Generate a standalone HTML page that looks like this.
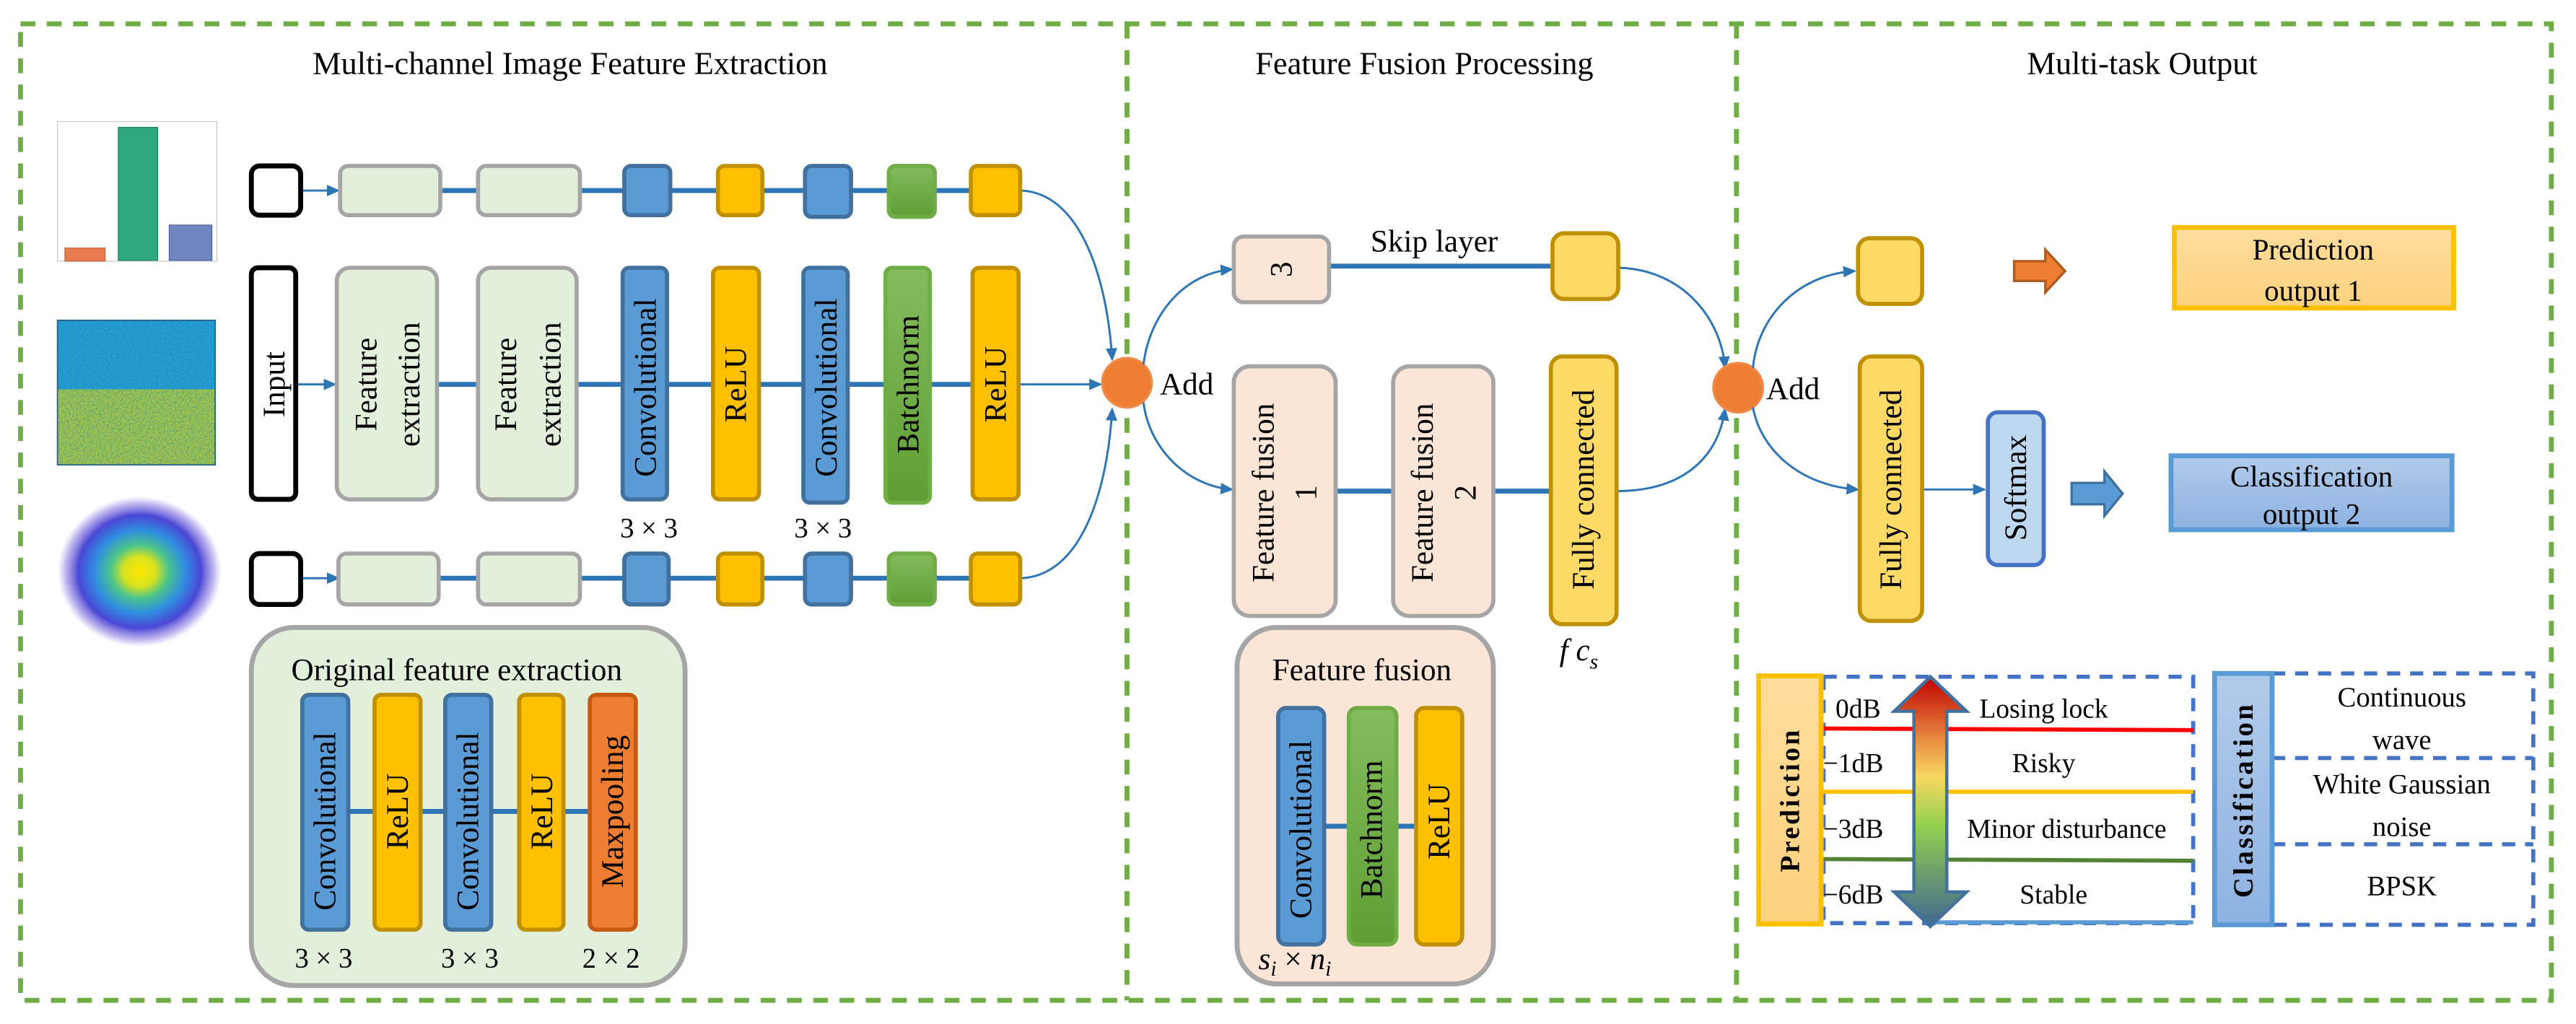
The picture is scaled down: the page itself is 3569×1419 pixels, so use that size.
<!DOCTYPE html>
<html><head><meta charset="utf-8">
<style>
html,body{margin:0;padding:0;background:#fff;}
svg{display:block;}
svg, text{font-family:"Liberation Serif","DejaVu Serif","Times New Roman",serif;}
text{fill:#000;}
</style></head>
<body>
<svg width="3569" height="1419" viewBox="0 0 1568 623.4" xmlns="http://www.w3.org/2000/svg" font-family="Liberation Serif, DejaVu Serif, Times New Roman, serif">
<defs>
<marker id="ar" markerWidth="8" markerHeight="8" refX="7" refY="4" orient="auto" markerUnits="userSpaceOnUse">
<path d="M0,0.5 L8,4 L0,7.5 Z" fill="#2e75b6"/></marker>
<linearGradient id="gg" x1="0" y1="0" x2="0" y2="1"><stop offset="0" stop-color="#84bc5e"/><stop offset="1" stop-color="#5e9e33"/></linearGradient>
<linearGradient id="dbl" x1="0" y1="0" x2="0" y2="1">
<stop offset="0" stop-color="#c00000"/><stop offset="0.25" stop-color="#e88a40"/><stop offset="0.4" stop-color="#f8d860"/><stop offset="0.6" stop-color="#92d050"/><stop offset="0.8" stop-color="#6a9a70"/><stop offset="1" stop-color="#3f6a90"/></linearGradient>
<linearGradient id="predg" x1="0" y1="0" x2="0" y2="1"><stop offset="0" stop-color="#fedd9c"/><stop offset="1" stop-color="#fdd17e"/></linearGradient>
<linearGradient id="clsg" x1="0" y1="0" x2="0" y2="1"><stop offset="0" stop-color="#b2cbea"/><stop offset="1" stop-color="#8db2e2"/></linearGradient>
<radialGradient id="blob">
<stop offset="0" stop-color="#ffe800"/><stop offset="0.2" stop-color="#d5e21f"/><stop offset="0.35" stop-color="#4cc58a"/><stop offset="0.55" stop-color="#2f8ee0"/><stop offset="0.75" stop-color="#4b47d6"/><stop offset="0.9" stop-color="#7a68dc" stop-opacity="0.5"/><stop offset="1" stop-color="#a090e8" stop-opacity="0"/></radialGradient>
<filter id="noise" x="0" y="0" width="1" height="1">
<feTurbulence type="fractalNoise" baseFrequency="0.9" numOctaves="2" result="t"/>
<feColorMatrix type="matrix" values="0 0 0 0 0  0 0 0 0 0.2  0 0 0 0 0.4  0 0 0 1.2 -0.4"/>
<feComposite in2="SourceGraphic" operator="in"/></filter>
</defs>

<g stroke="#70ad47" stroke-width="3" stroke-dasharray="9 7" fill="none">
<rect x="12.5" y="14.5" width="1540.5" height="594.5"/>
<line x1="686" y1="14.5" x2="686" y2="609"/>
<line x1="1057" y1="14.5" x2="1057" y2="609"/>
</g>

<text x="347" y="45" font-size="19.5" text-anchor="middle">Multi-channel Image Feature Extraction</text>
<text x="867" y="45" font-size="19.5" text-anchor="middle">Feature Fusion Processing</text>
<text x="1304" y="45" font-size="19.5" text-anchor="middle">Multi-task Output</text>

<rect x="35" y="74" width="97" height="85" fill="#fff" stroke="#ccc" stroke-width="0.6"/>
<rect x="39.5" y="151" width="24.5" height="8" fill="#e87a50" stroke="#c0603a" stroke-width="0.5"/>
<rect x="72" y="77.5" width="24" height="81" fill="#2ea87e" stroke="#1a7a5a" stroke-width="0.5"/>
<rect x="103" y="137" width="26" height="21.5" fill="#6f86c0" stroke="#4a60a0" stroke-width="0.5"/>

<rect x="35" y="195" width="96" height="42" fill="#2a9fd4"/>
<rect x="35" y="237" width="96" height="46" fill="#a9c64a"/>
<rect x="35" y="195" width="96" height="88" fill="#fff" filter="url(#noise)" opacity="0.8"/>
<rect x="35" y="195" width="96" height="88" fill="none" stroke="#2a6090" stroke-width="0.8"/>

<ellipse cx="85" cy="348" rx="50" ry="46" fill="url(#blob)"/>

<g stroke="#2e75b6" stroke-width="3">
<line x1="266" y1="116" x2="591" y2="116"/>
<line x1="266" y1="234" x2="592" y2="234"/>
<line x1="266" y1="352" x2="591" y2="352"/>
</g>
<g stroke="#2e75b6" stroke-width="1.3" fill="none" marker-end="url(#ar)">
<line x1="183" y1="116" x2="206" y2="116"/>
<line x1="180" y1="234" x2="204" y2="234"/>
<line x1="183" y1="352" x2="206" y2="352"/>
<line x1="620" y1="234" x2="670" y2="234"/>
<path d="M622,116 C658,118 674,170 677,219"/>
<path d="M622,352 C658,350 674,300 677,249"/>
</g>

<rect x="153" y="101" width="30" height="30" rx="5" fill="#fff" stroke="#000" stroke-width="3"/>
<g fill="#e2efda" stroke="#a5a5a5" stroke-width="2.5">
<rect x="207" y="101" width="61" height="30" rx="5"/>
<rect x="291" y="101" width="62" height="30" rx="5"/>
<rect x="205" y="163" width="61" height="141" rx="8"/>
<rect x="291" y="163" width="60" height="141" rx="8"/>
<rect x="206" y="337" width="61" height="31" rx="5"/>
<rect x="291" y="337" width="62" height="31" rx="5"/>
</g>
<g fill="#5b9bd5" stroke="#41719c" stroke-width="2.5">
<rect x="380" y="101" width="28" height="30" rx="4"/>
<rect x="490" y="101" width="28" height="31" rx="4"/>
<rect x="379" y="163" width="27" height="141" rx="4"/>
<rect x="489" y="163" width="27" height="143" rx="4"/>
<rect x="380" y="337" width="27" height="31" rx="4"/>
<rect x="490" y="337" width="28" height="31" rx="4"/>
</g>
<g fill="#ffc000" stroke="#bf9000" stroke-width="2.5">
<rect x="437" y="101" width="27" height="30" rx="4"/>
<rect x="591" y="101" width="30" height="30" rx="4"/>
<rect x="434" y="163" width="28" height="141" rx="4"/>
<rect x="592" y="163" width="28" height="141" rx="4"/>
<rect x="437" y="337" width="27" height="31" rx="4"/>
<rect x="591" y="337" width="30" height="31" rx="4"/>
</g>
<g fill="url(#gg)" stroke="#70ad47" stroke-width="2.5">
<rect x="541" y="101" width="28" height="31" rx="4"/>
<rect x="539" y="163" width="27" height="143" rx="4"/>
<rect x="541" y="337" width="28" height="31" rx="4"/>
</g>
<rect x="153" y="163" width="27" height="141" rx="4" fill="#fff" stroke="#000" stroke-width="3"/>
<rect x="153" y="337" width="30" height="31" rx="5" fill="#fff" stroke="#000" stroke-width="3"/>

<g font-size="19" text-anchor="middle" dominant-baseline="central">
<text transform="translate(167,234) rotate(-90)">Input</text>
<text transform="translate(223,234) rotate(-90)">Feature</text>
<text transform="translate(249,234) rotate(-90)">extraction</text>
<text transform="translate(308,234) rotate(-90)">Feature</text>
<text transform="translate(335,234) rotate(-90)">extraction</text>
<text transform="translate(393,236) rotate(-90)">Convolutional</text>
<text transform="translate(448,234) rotate(-90)">ReLU</text>
<text transform="translate(503,236) rotate(-90)">Convolutional</text>
<text transform="translate(553,234) rotate(-90)">Batchnorm</text>
<text transform="translate(606,234) rotate(-90)">ReLU</text>
</g>
<g font-size="17" text-anchor="middle">
<text x="395" y="327">3 × 3</text>
<text x="501" y="327">3 × 3</text>
</g>

<rect x="153" y="382" width="264" height="218" rx="26" fill="#e2efda" stroke="#a5a5a5" stroke-width="3"/>
<text x="278" y="414" font-size="19" text-anchor="middle">Original feature extraction</text>
<line x1="212" y1="494" x2="359" y2="494" stroke="#2e75b6" stroke-width="3"/>
<rect x="184" y="423" width="28" height="143" rx="4" fill="#5b9bd5" stroke="#41719c" stroke-width="2.5"/>
<rect x="228" y="423" width="28" height="143" rx="4" fill="#ffc000" stroke="#bf9000" stroke-width="2.5"/>
<rect x="271" y="423" width="28" height="143" rx="4" fill="#5b9bd5" stroke="#41719c" stroke-width="2.5"/>
<rect x="316" y="423" width="27" height="143" rx="4" fill="#ffc000" stroke="#bf9000" stroke-width="2.5"/>
<rect x="359" y="423" width="28" height="143" rx="4" fill="#ed7d31" stroke="#c55a11" stroke-width="2.5"/>
<g font-size="19" text-anchor="middle" dominant-baseline="central">
<text transform="translate(198,500) rotate(-90)">Convolutional</text>
<text transform="translate(242,494) rotate(-90)">ReLU</text>
<text transform="translate(285,500) rotate(-90)">Convolutional</text>
<text transform="translate(330,494) rotate(-90)">ReLU</text>
<text transform="translate(373,494) rotate(-90)">Maxpooling</text>
</g>
<g font-size="17" text-anchor="middle">
<text x="197" y="589">3 × 3</text>
<text x="286" y="589">3 × 3</text>
<text x="372" y="589">2 × 2</text>
</g>

<circle cx="686" cy="233" r="15" fill="#ed7d31" stroke="#f08a48" stroke-width="1.5"/>
<text x="706" y="240" font-size="19">Add</text>

<g stroke="#2e75b6" stroke-width="3">
<line x1="809" y1="162" x2="945" y2="162"/>
<line x1="813" y1="299" x2="848" y2="299"/>
<line x1="909" y1="299" x2="944" y2="299"/>
</g>
<g stroke="#2e75b6" stroke-width="1.3" fill="none" marker-end="url(#ar)">
<path d="M696,222 C700,190 722,166 750,164"/>
<path d="M696,245 C700,275 724,296 750,298"/>
<path d="M985,163 C1025,164 1048,195 1050,224"/>
<path d="M984,299 C1025,299 1046,278 1050,249"/>
</g>
<rect x="751" y="144" width="58" height="40" rx="6" fill="#fbe5d6" stroke="#a5a5a5" stroke-width="2.5"/>
<text transform="translate(780,164) rotate(-90)" font-size="19" text-anchor="middle" dominant-baseline="central">3</text>
<text x="873" y="153" font-size="19" text-anchor="middle">Skip layer</text>
<rect x="945" y="142" width="40" height="40" rx="7" fill="#ffd966" stroke="#bf9000" stroke-width="2.5"/>
<rect x="751" y="223" width="62" height="152" rx="10" fill="#fbe5d6" stroke="#a5a5a5" stroke-width="2.5"/>
<rect x="848" y="223" width="61" height="152" rx="10" fill="#fbe5d6" stroke="#a5a5a5" stroke-width="2.5"/>
<rect x="944" y="217" width="40" height="163" rx="7" fill="#ffd966" stroke="#bf9000" stroke-width="2.5"/>
<g font-size="19" text-anchor="middle" dominant-baseline="central">
<text transform="translate(769,300) rotate(-90)">Feature fusion</text>
<text transform="translate(795,300) rotate(-90)">1</text>
<text transform="translate(866,300) rotate(-90)">Feature fusion</text>
<text transform="translate(892,300) rotate(-90)">2</text>
<text transform="translate(964,298) rotate(-90)">Fully connected</text>
</g>
<text x="961" y="402" font-size="19" font-style="italic" text-anchor="middle">f c<tspan font-size="13" dy="5">s</tspan></text>

<rect x="753" y="382" width="156" height="217" rx="24" fill="#fbe5d6" stroke="#a5a5a5" stroke-width="3"/>
<text x="829" y="414" font-size="19" text-anchor="middle">Feature fusion</text>
<line x1="806" y1="503" x2="862" y2="503" stroke="#2e75b6" stroke-width="3"/>
<rect x="778" y="431" width="28" height="144" rx="5" fill="#5b9bd5" stroke="#41719c" stroke-width="2.5"/>
<rect x="821" y="431" width="29" height="144" rx="5" fill="url(#gg)" stroke="#70ad47" stroke-width="2.5"/>
<rect x="862" y="431" width="28" height="144" rx="5" fill="#ffc000" stroke="#bf9000" stroke-width="2.5"/>
<g font-size="19" text-anchor="middle" dominant-baseline="central">
<text transform="translate(792,505) rotate(-90)">Convolutional</text>
<text transform="translate(835,505) rotate(-90)">Batchnorm</text>
<text transform="translate(876,500) rotate(-90)">ReLU</text>
</g>
<text x="766" y="590" font-size="19" font-style="italic">s<tspan font-size="13" dy="4">i</tspan><tspan dy="-4" font-style="normal"> × </tspan>n<tspan font-size="13" dy="4">i</tspan></text>

<circle cx="1058" cy="236" r="15" fill="#ed7d31" stroke="#f08a48" stroke-width="1.5"/>
<text x="1075" y="243" font-size="19">Add</text>

<g stroke="#2e75b6" stroke-width="1.3" fill="none" marker-end="url(#ar)">
<path d="M1067,224 C1070,192 1095,167 1129,165"/>
<path d="M1067,248 C1072,275 1097,296 1131,298"/>
<line x1="1170" y1="298" x2="1208" y2="298"/>
</g>
<rect x="1131" y="145" width="39" height="40" rx="7" fill="#ffd966" stroke="#bf9000" stroke-width="2.5"/>
<rect x="1132" y="217" width="38" height="161" rx="7" fill="#ffd966" stroke="#bf9000" stroke-width="2.5"/>
<text transform="translate(1151,298) rotate(-90)" font-size="19" text-anchor="middle" dominant-baseline="central">Fully connected</text>
<rect x="1210" y="251" width="34" height="93" rx="6" fill="#bdd7ee" stroke="#4472c4" stroke-width="2.5"/>
<text transform="translate(1227,297) rotate(-90)" font-size="19" text-anchor="middle" dominant-baseline="central">Softmax</text>

<polygon points="1226,159 1245,159 1245,152 1257,165 1245,178 1245,171 1226,171" fill="#ed7d31" stroke="#ae5a21" stroke-width="1.5"/>
<polygon points="1261,294 1281,294 1281,287 1292,300.5 1281,314 1281,307 1261,307" fill="#5b9bd5" stroke="#41719c" stroke-width="1.5"/>

<rect x="1323.5" y="138.5" width="170" height="49" fill="url(#predg)" stroke="#ffc000" stroke-width="3"/>
<text x="1408" y="158" font-size="18" text-anchor="middle">Prediction</text>
<text x="1408" y="183" font-size="18" text-anchor="middle">output 1</text>
<rect x="1321.5" y="277.5" width="171" height="45" fill="url(#clsg)" stroke="#5b9bd5" stroke-width="3"/>
<text x="1407" y="296" font-size="18" text-anchor="middle">Classification</text>
<text x="1407" y="319" font-size="18" text-anchor="middle">output 2</text>

<rect x="1110" y="412" width="225" height="150" fill="none" stroke="#4472c4" stroke-width="2.5" stroke-dasharray="8 6"/>
<line x1="1108" y1="443.5" x2="1335" y2="444.5" stroke="#ff0000" stroke-width="2.5"/>
<line x1="1108" y1="482" x2="1335" y2="482" stroke="#ffc000" stroke-width="2.5"/>
<line x1="1108" y1="523" x2="1335" y2="524" stroke="#548235" stroke-width="2.5"/>
<line x1="1174" y1="561.5" x2="1335" y2="561.5" stroke="#5b9bd5" stroke-width="2.5"/>
<rect x="1070.5" y="411.5" width="38" height="151" fill="url(#predg)" stroke="#ffc000" stroke-width="3"/>
<text transform="translate(1090,487) rotate(-90)" font-size="16.5" font-weight="bold" letter-spacing="1.5" text-anchor="middle" dominant-baseline="central">Prediction</text>
<polygon points="1175,412 1197,433 1185,433 1185,543 1197,543 1175,564 1153,543 1165,543 1165,433 1153,433" fill="url(#dbl)" stroke="#41719c" stroke-width="2"/>
<g font-size="16.5">
<text x="1131" y="437" text-anchor="middle">0dB</text>
<text x="1128" y="470" text-anchor="middle">−1dB</text>
<text x="1128" y="510" text-anchor="middle">−3dB</text>
<text x="1128" y="550" text-anchor="middle">−6dB</text>
<text x="1244" y="437" text-anchor="middle">Losing lock</text>
<text x="1244" y="470" text-anchor="middle">Risky</text>
<text x="1258" y="510" text-anchor="middle">Minor disturbance</text>
<text x="1250" y="550" text-anchor="middle">Stable</text>
</g>

<rect x="1383" y="410" width="159" height="153" fill="none" stroke="#4472c4" stroke-width="2.5" stroke-dasharray="8 6"/>
<line x1="1383" y1="461.5" x2="1542" y2="461.5" stroke="#4472c4" stroke-width="2.5" stroke-dasharray="8 6"/>
<line x1="1383" y1="514" x2="1542" y2="514" stroke="#4472c4" stroke-width="2.5" stroke-dasharray="8 6"/>
<rect x="1348" y="410" width="35" height="153" fill="url(#clsg)" stroke="#5b9bd5" stroke-width="3"/>
<text transform="translate(1366,487) rotate(-90)" font-size="17" font-weight="bold" letter-spacing="1.5" text-anchor="middle" dominant-baseline="central">Classification</text>
<g font-size="17" text-anchor="middle">
<text x="1462" y="430">Continuous</text>
<text x="1462" y="456">wave</text>
<text x="1462" y="483">White Gaussian</text>
<text x="1462" y="509">noise</text>
<text x="1462" y="545">BPSK</text>
</g>
</svg>
</body></html>
